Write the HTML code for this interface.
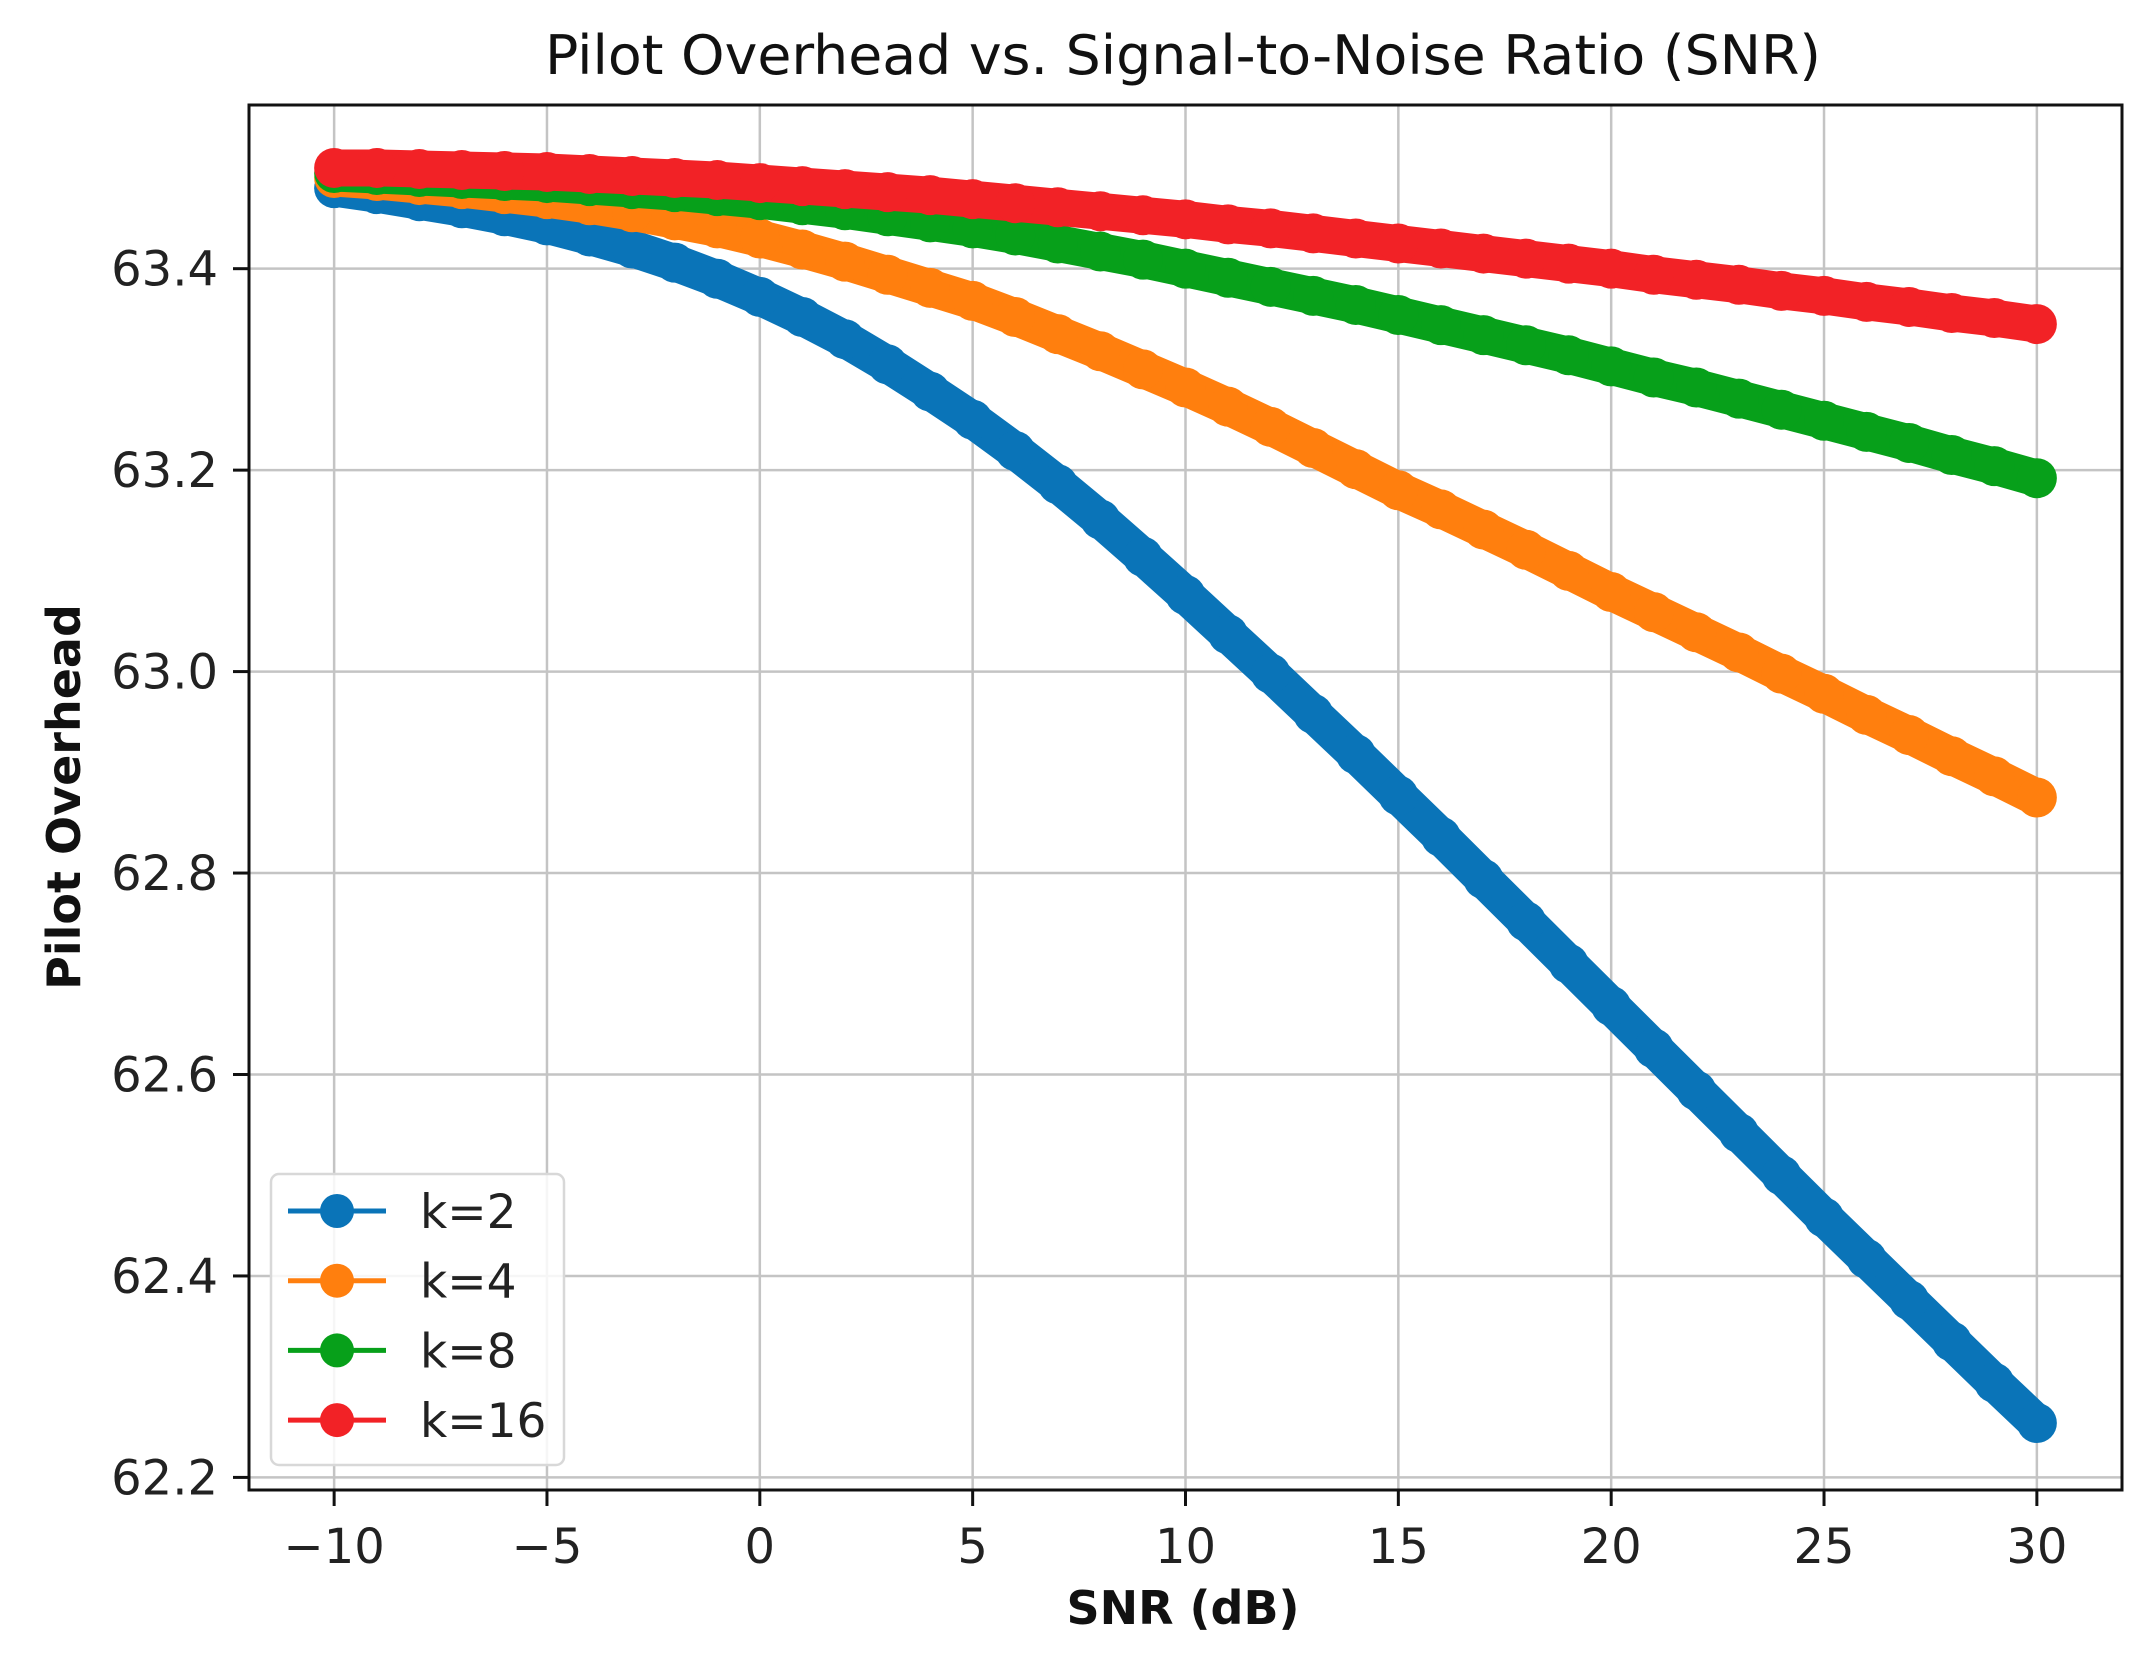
<!DOCTYPE html>
<html><head><meta charset="utf-8"><style>
html,body{margin:0;padding:0;background:#fff;}
svg{display:block;font-family:"DejaVu Sans","Liberation Sans",sans-serif;}
</style></head><body>
<svg id="chart" width="2146" height="1662" viewBox="0 0 2146 1662">
<text x="1183" y="74" text-anchor="middle" font-size="54" textLength="1276" lengthAdjust="spacingAndGlyphs" fill="#111">Pilot Overhead vs. Signal-to-Noise Ratio (SNR)</text>
<g id="grid"></g>
<g id="series"></g>
<rect x="249" y="105" width="1873" height="1385" fill="none" stroke="#111" stroke-width="3"/>
<g id="ticks"></g>
<text x="1183" y="1624" text-anchor="middle" font-size="46" font-weight="bold" fill="#111">SNR (dB)</text>
<text transform="translate(80,797) rotate(-90)" text-anchor="middle" font-size="46" font-weight="bold" fill="#111">Pilot Overhead</text>
<g id="legend"></g>
</svg>
<script>
const snr = [-10,-9,-8,-7,-6,-5,-4,-3,-2,-1,0,1,2,3,4,5,6,7,8,9,10,11,12,13,14,15,16,17,18,19,20,21,22,23,24,25,26,27,28,29,30];
const k2 = [63.480,63.474,63.467,63.460,63.452,63.443,63.432,63.420,63.406,63.390,63.372,63.352,63.330,63.305,63.278,63.250,63.219,63.186,63.151,63.114,63.076,63.037,62.998,62.958,62.918,62.877,62.836,62.794,62.752,62.710,62.668,62.626,62.584,62.542,62.500,62.458,62.417,62.376,62.335,62.294,62.254];
const k4 = [63.490,63.487,63.483,63.479,63.474,63.469,63.463,63.456,63.448,63.440,63.430,63.419,63.407,63.394,63.381,63.368,63.352,63.335,63.318,63.300,63.282,63.263,63.243,63.222,63.201,63.180,63.161,63.141,63.121,63.100,63.079,63.059,63.039,63.019,62.998,62.978,62.957,62.937,62.916,62.896,62.875];
const k8 = [63.495,63.493,63.491,63.489,63.487,63.485,63.482,63.479,63.476,63.472,63.468,63.463,63.458,63.452,63.446,63.440,63.433,63.425,63.417,63.409,63.400,63.391,63.382,63.373,63.364,63.354,63.344,63.334,63.324,63.314,63.303,63.292,63.282,63.271,63.260,63.249,63.238,63.227,63.215,63.204,63.192];
const k16 = [63.500,63.500,63.499,63.498,63.497,63.496,63.494,63.492,63.490,63.488,63.485,63.482,63.479,63.476,63.473,63.469,63.465,63.461,63.457,63.453,63.449,63.444,63.440,63.435,63.430,63.425,63.420,63.415,63.410,63.405,63.400,63.394,63.389,63.384,63.378,63.373,63.367,63.362,63.356,63.351,63.345];
const seriesNames = ["k=2","k=4","k=8","k=16"];
const xTicks = [-10,-5,0,5,10,15,20,25,30];
const xTickLabels = ["\u221210","\u22125","0","5","10","15","20","25","30"];
const yTicks = [62.2,62.4,62.6,62.8,63.0,63.2,63.4];
const yTickLabels = ["62.2","62.4","62.6","62.8","63.0","63.2","63.4"];

const NS="http://www.w3.org/2000/svg";
const L=249,R=2122,T=105,B=1490;
const xMin=-12,xMax=32,yMin=62.1875,yMax=63.5625;
const sx=v=>L+(v-xMin)/(xMax-xMin)*(R-L);
const sy=v=>B-(v-yMin)/(yMax-yMin)*(B-T);
function mk(tag,attrs,parent){const e=document.createElementNS(NS,tag);for(const k in attrs)e.setAttribute(k,attrs[k]);parent.appendChild(e);return e;}
const grid=document.getElementById('grid'),ticks=document.getElementById('ticks'),ser=document.getElementById('series'),leg=document.getElementById('legend');
xTicks.forEach((v,i)=>{
  const g=mk('line',{x1:sx(v),x2:sx(v),y1:T,y2:B,stroke:'#c4c4c4','stroke-width':2.5},grid);
  
  
  const t=mk('line',{x1:sx(v),x2:sx(v),y1:B,y2:B+16,stroke:'#111','stroke-width':3},ticks);
  
  
  const tx=mk('text',{x:sx(v),y:1563,'text-anchor':'middle','font-size':48,fill:'#222'},ticks);
  tx.textContent=xTickLabels[i];
  
  
});
yTicks.forEach((v,i)=>{
  const g=mk('line',{x1:L,x2:R,y1:sy(v),y2:sy(v),stroke:'#c4c4c4','stroke-width':2.5},grid);
  
  
  const t=mk('line',{x1:L-16,x2:L,y1:sy(v),y2:sy(v),stroke:'#111','stroke-width':3},ticks);
  
  
  const tx=mk('text',{x:218,y:sy(v)+17,'text-anchor':'end','font-size':48,fill:'#222'},ticks);
  tx.textContent=yTickLabels[i];
  
  
});
const data=[k2,k4,k8,k16];
const colors=['#0a74b8','#ff7f0e','#07a01a','#f22226'];
data.forEach((vals,si)=>{
  const g=mk('g',{},ser);
  
  
  const pts=vals.map((v,i)=>sx(snr[i])+','+sy(v)).join(' ');
  const pl=mk('polyline',{points:pts,fill:'none',stroke:colors[si],'stroke-width':37,'stroke-linejoin':'round','stroke-linecap':'round'},g);
  
  
  vals.forEach((v,i)=>{
    const c=mk('circle',{cx:sx(snr[i]),cy:sy(v),r:20,fill:colors[si]},g);
    
    
  });
});
const box=mk('rect',{x:271,y:1174,width:293,height:291,rx:8,fill:'#fff','fill-opacity':0.85,stroke:'#d8d8d8','stroke-width':2.5},leg);


seriesNames.forEach((n,i)=>{
  const y=1211+i*69.7;
  const g=mk('g',{},leg);
  
  
  mk('line',{x1:288,x2:386,y1:y,y2:y,stroke:colors[i],'stroke-width':5},g);
  mk('circle',{cx:337,cy:y,r:17,fill:colors[i]},g);
  const t=mk('text',{x:420,y:y+17,'font-size':47,fill:'#222'},g);
  t.textContent=n;
  
  
});
</script>
</body></html>
